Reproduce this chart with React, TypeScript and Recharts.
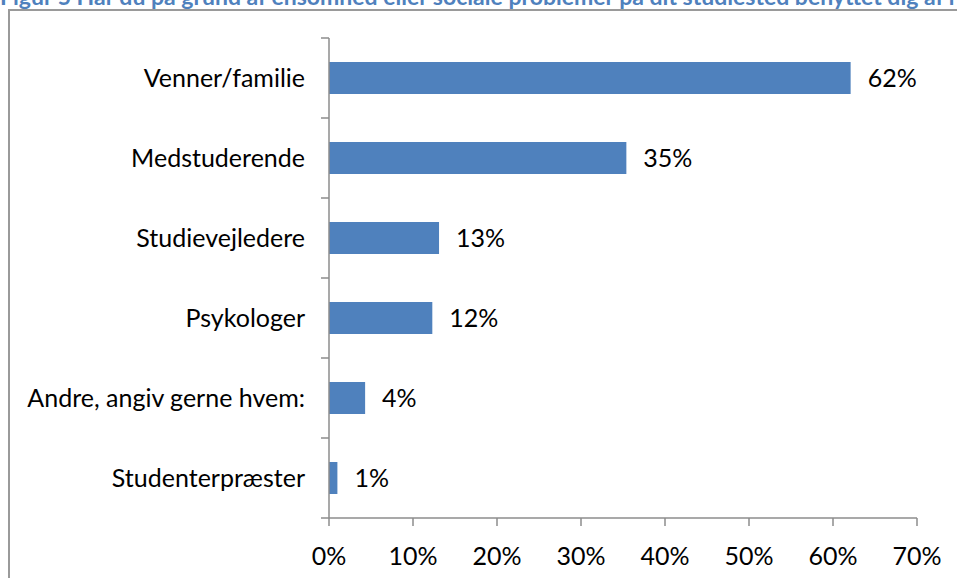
import React from 'react';
import { BarChart, Bar, XAxis, YAxis, LabelList } from 'recharts';

const categories = [
  'Venner/familie',
  'Medstuderende',
  'Studievejledere',
  'Psykologer',
  'Andre, angiv gerne hvem:',
  'Studenterpræster',
];
const values = [62.1, 35.4, 13.1, 12.3, 4.3, 1.0];
const xTicks = [0, 10, 20, 30, 40, 50, 60, 70];
const title =
  'Figur 5 Har du på grund af ensomhed eller sociale problemer på dit studiested benyttet dig af rådgivning fra følgende:';

const data = categories.map((name, i) => ({ name, value: values[i] }));

const FONT = 'Lato, "Open Sans", sans-serif';
const AXIS = '#8c8c8c';

const CHART_W = 957;
const CHART_H = 578;
const M_TOP = 38;
const X_AXIS_H = 60;
const Y_AXIS_W = 329;
const TICK_MARGIN = 24;
const BAND = (CHART_H - M_TOP - X_AXIS_H) / categories.length;

const CategoryTick = (props: any) => {
  const { x, y, payload, index } = props;
  const axisX = x + TICK_MARGIN;
  const cy = payload && payload.coordinate != null ? payload.coordinate : y;
  const isLast = index === categories.length - 1;
  return (
    <g>
      <line x1={axisX - 8} x2={axisX} y1={cy - BAND / 2} y2={cy - BAND / 2} stroke={AXIS} strokeWidth={1.5} />
      {isLast && (
        <line x1={axisX - 8} x2={axisX} y1={cy + BAND / 2} y2={cy + BAND / 2} stroke={AXIS} strokeWidth={1.5} />
      )}
      <text
        x={x}
        y={y}
        dy="0.355em"
        textAnchor="end"
        fontFamily={FONT}
        fontSize={25}
        fill="#000"
      >
        {payload.value}
      </text>
    </g>
  );
};

export default function App() {
  return (
    <div
      style={{
        position: 'absolute',
        left: 0,
        top: 0,
        width: CHART_W,
        height: CHART_H,
        overflow: 'hidden',
        background: '#fff',
      }}
    >
      <div
        style={{
          position: 'absolute',
          left: 0,
          top: -15,
          whiteSpace: 'nowrap',
          fontFamily: FONT,
          fontWeight: 'bold',
          fontSize: 23,
          lineHeight: '23px',
          color: '#4F81BD',
        }}
      >
        {title}
      </div>
      <div
        style={{
          position: 'absolute',
          left: 8,
          top: 9,
          width: 1200,
          height: 1200,
          borderLeft: '2px solid #9a9a9a',
          borderTop: '2px solid #9a9a9a',
        }}
      />
      <div style={{ position: 'absolute', left: 0, top: 0 }}>
        <BarChart
          width={CHART_W}
          height={CHART_H}
          data={data}
          layout="vertical"
          margin={{ top: M_TOP, right: 40, bottom: 0, left: 0 }}
          barCategoryGap="30%"
        >
          <XAxis
            type="number"
            dataKey="value"
            domain={[0, 70]}
            ticks={xTicks}
            tickFormatter={(v: number) => `${v}%`}
            axisLine={{ stroke: AXIS, strokeWidth: 1.5 }}
            tickLine={{ stroke: AXIS, strokeWidth: 1.5 }}
            tickSize={8}
            tickMargin={21}
            height={X_AXIS_H}
            tick={{ fontFamily: FONT, fontSize: 25, fill: '#000' }}
          />
          <YAxis
            type="category"
            dataKey="name"
            axisLine={{ stroke: AXIS, strokeWidth: 1.5 }}
            tickLine={false}
            tickSize={0}
            tickMargin={TICK_MARGIN}
            width={Y_AXIS_W}
            interval={0}
            tick={CategoryTick}
          />
          <Bar dataKey="value" fill="#4F81BD" isAnimationActive={false}>
            <LabelList
              dataKey="value"
              position="right"
              offset={17}
              formatter={(v: number) => `${Math.round(v)}%`}
              style={{ fontFamily: FONT, fontSize: 25, fill: '#000' }}
            />
          </Bar>
        </BarChart>
      </div>
    </div>
  );
}
